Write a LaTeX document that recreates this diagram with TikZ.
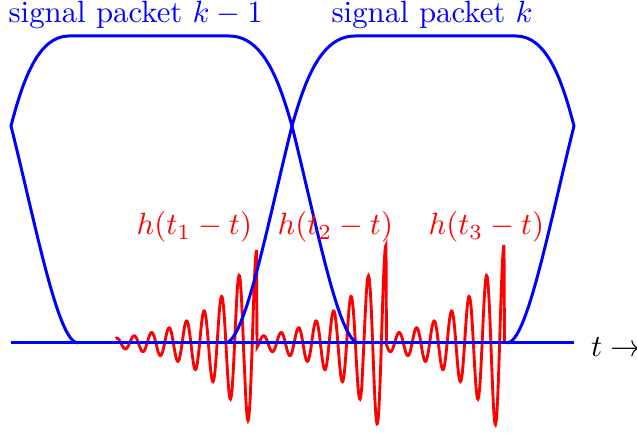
\documentclass[tikz,border=0pt]{standalone}
\usepackage{tikz}
\begin{document}
\begin{tikzpicture}[x=0.3247pt,y=0.3247pt,
  packet/.style={blue,line width=0.97pt},
  resp/.style={red,line width=0.93pt},
  plabel/.style={blue,anchor=base west,inner sep=0pt},
  hlabel/.style={red,anchor=base west,inner sep=0pt},
  declare function={ch(\t)=and(\t>=-0.1,\t<=141.5)*98*exp(-0.0213*max(\t,0))*cos(20.571429*\t);}]
\useasboundingbox (0,0) rectangle (637,433);
% red impulse responses
\draw[resp] plot[domain=115.5:504.5,samples=779,variable=\x]
  (\x,{90+ch(256.5-\x)+ch(386-\x)+ch(504-\x)});
% signal packet k-1
\draw[packet] (78,90) .. controls (58,90) and (36,207) .. (11,307)
  .. controls (23.5,355.5) and (39,397) .. (69,397) -- (229,397)
  .. controls (264,397) and (279.6,350.3) .. (292,307)
  .. controls (317,207) and (339,90) .. (359,90);
% signal packet k
\draw[packet] (225,90) .. controls (245,90) and (267,207) .. (292,307)
  .. controls (304.4,350.3) and (320,397) .. (355,397) -- (516,397)
  .. controls (546,397) and (561.5,355.5) .. (574,307)
  .. controls (549,207) and (527,90) .. (507,90);
% time axis
\coordinate (ax0) at (11,90);
\coordinate (ax1) at (574,90);
\draw[packet] (ax0) -- (ax1);
% labels
\node[plabel] (pk1) at (8,410.5) {signal packet $k-1$};
\node[plabel] (pk) at (331,410.5) {signal packet $k$};
\node[hlabel] (h1) at (136,198.3) {$h(t_1-t)$};
\node[hlabel] (h2) at (277,198.3) {$h(t_2-t)$};
\node[hlabel] (h3) at (428,198.3) {$h(t_3-t)$};
\node[anchor=base west,inner sep=0pt] (tax) at (590.5,76.3) {$t\rightarrow$};
\end{tikzpicture}
\end{document}
